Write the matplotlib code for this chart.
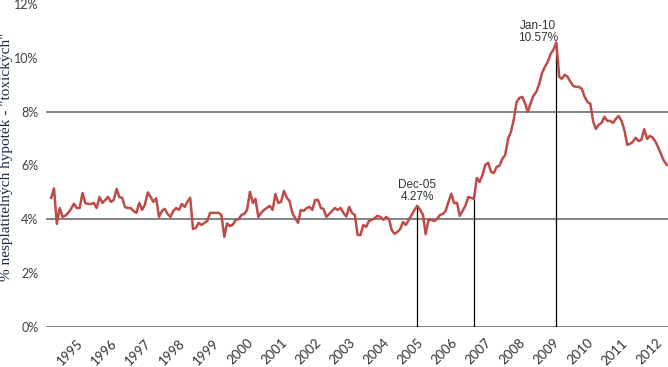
import matplotlib
matplotlib.use("Agg")
import matplotlib.pyplot as plt
import pandas as pd
from datetime import datetime

# Monthly share of delinquent ("toxic") mortgages, Mar 1995 .. Apr 2013 (%)
start_month = "1995-03-01"
delinquency = [
    4.80, 5.15, 3.83, 4.42, 4.09, 4.14, 4.24, 4.39, 4.58, 4.42,
    4.42, 4.98, 4.61, 4.57, 4.57, 4.61, 4.42, 4.83, 4.61, 4.72,
    4.83, 4.65, 4.72, 5.13, 4.83, 4.80, 4.46, 4.42, 4.42, 4.31,
    4.24, 4.61, 4.35, 4.54, 5.00, 4.83, 4.65, 4.78, 4.09, 4.31,
    4.39, 4.20, 4.09, 4.31, 4.42, 4.35, 4.57, 4.46, 4.65, 4.80,
    3.64, 3.68, 3.87, 3.79, 3.87, 3.94, 4.24, 4.24, 4.24, 4.24,
    4.16, 3.35, 3.85, 3.75, 3.80, 3.98, 4.01, 4.16, 4.20, 4.35,
    5.02, 4.61, 4.76, 4.09, 4.24, 4.35, 4.42, 4.50, 4.35, 4.94,
    4.61, 4.65, 5.06, 4.80, 4.68, 4.24, 4.05, 3.87, 4.35, 4.31,
    4.42, 4.46, 4.35, 4.72, 4.72, 4.42, 4.39, 4.09, 4.20, 4.31,
    4.42, 4.35, 4.42, 4.24, 4.10, 4.46, 4.24, 4.16, 3.42, 3.42,
    3.79, 3.72, 3.94, 3.98, 4.05, 4.13, 4.09, 3.98, 4.09, 4.01,
    3.61, 3.46, 3.53, 3.64, 3.90, 3.79, 3.98, 4.16, 4.35, 4.50,
    4.35, 4.16, 3.45, 3.98, 3.98, 3.94, 4.01, 4.16, 4.20, 4.31,
    4.65, 4.95, 4.60, 4.61, 4.13, 4.31, 4.50, 4.83, 4.80, 4.76,
    5.54, 5.39, 5.65, 6.02, 6.10, 5.76, 5.72, 5.95, 5.99, 6.25,
    6.39, 6.99, 7.25, 7.70, 8.36, 8.51, 8.55, 8.29, 7.99, 8.33,
    8.59, 8.74, 9.03, 9.44, 9.67, 9.85, 10.15, 10.30, 10.57, 9.30,
    9.22, 9.37, 9.30, 9.11, 8.96, 8.92, 8.92, 8.85, 8.55, 8.36,
    8.29, 7.62, 7.36, 7.51, 7.58, 7.81, 7.66, 7.66, 7.58, 7.73,
    7.84, 7.66, 7.32, 6.77, 6.80, 6.88, 7.03, 6.91, 6.95, 7.35,
    6.99, 7.10, 7.03, 6.88, 6.65, 6.39, 6.17, 6.02,
]
year_labels = [str(y) for y in range(1995, 2013)]
ytick_values = [0, 2, 4, 6, 8, 10, 12]
ytick_labels = ["0%", "2%", "4%", "6%", "8%", "10%", "12%"]
grid_values = [0, 4, 8]

# annotated points
ann_dates = [datetime(2005, 12, 1), datetime(2010, 1, 1)]
ann_texts = ["Dec-05\n4.27%", "Jan-10\n10.57%"]
marker_dates = [datetime(2005, 12, 1), datetime(2007, 8, 1), datetime(2010, 1, 1)]

dates = pd.date_range(start_month, periods=len(delinquency), freq="MS")
series = pd.Series(delinquency, index=dates)

fig = plt.figure(figsize=(6.68, 3.67), dpi=100)
ax = fig.add_axes([46 / 668, 40 / 367, 622 / 668, 323 / 367])

for g in grid_values:
    ax.axhline(g, color="#7a7a7a", lw=1.3, zorder=1)

for d in marker_dates:
    ax.vlines(d, 0, series[d], color="black", lw=0.9, zorder=2)

ax.plot(series.index, series.values, color="#BE4B48", lw=1.8, zorder=3)

ax.text(ann_dates[0], 5.06, ann_texts[0], ha="center", va="center",
        fontsize=8.5, color="#333333", family="Liberation Sans", linespacing=1.0)
ax.text(datetime(2009, 6, 19), 10.97, ann_texts[1], ha="center", va="center",
        fontsize=8.5, color="#333333", family="Liberation Sans", linespacing=1.0)

ax.set_ylim(0, 12)
ax.set_xlim(datetime(1995, 1, 5), datetime(2013, 4, 13))
ax.set_yticks(ytick_values)
ax.set_yticklabels(ytick_labels, fontsize=9.0, color="#404040", family="Lato")
ax.set_xticks([datetime(int(y), 12, 1) for y in year_labels])
ax.set_xticklabels(year_labels, rotation=45, ha="right", rotation_mode="anchor",
                   fontsize=9.5, color="#333333", family="Lato")
ax.tick_params(axis="both", length=0)
ax.tick_params(axis="y", pad=5.5)
ax.tick_params(axis="x", pad=7)
for s in ax.spines.values():
    s.set_visible(False)

fig.text(0.0, 0.572, '% nesplatitelných hypoték - "toxických"', rotation=90,
         ha="left", va="center", fontsize=11.0, color="#1a2a44",
         family="Liberation Serif")

fig.savefig("out.png", dpi=100, facecolor="white")
